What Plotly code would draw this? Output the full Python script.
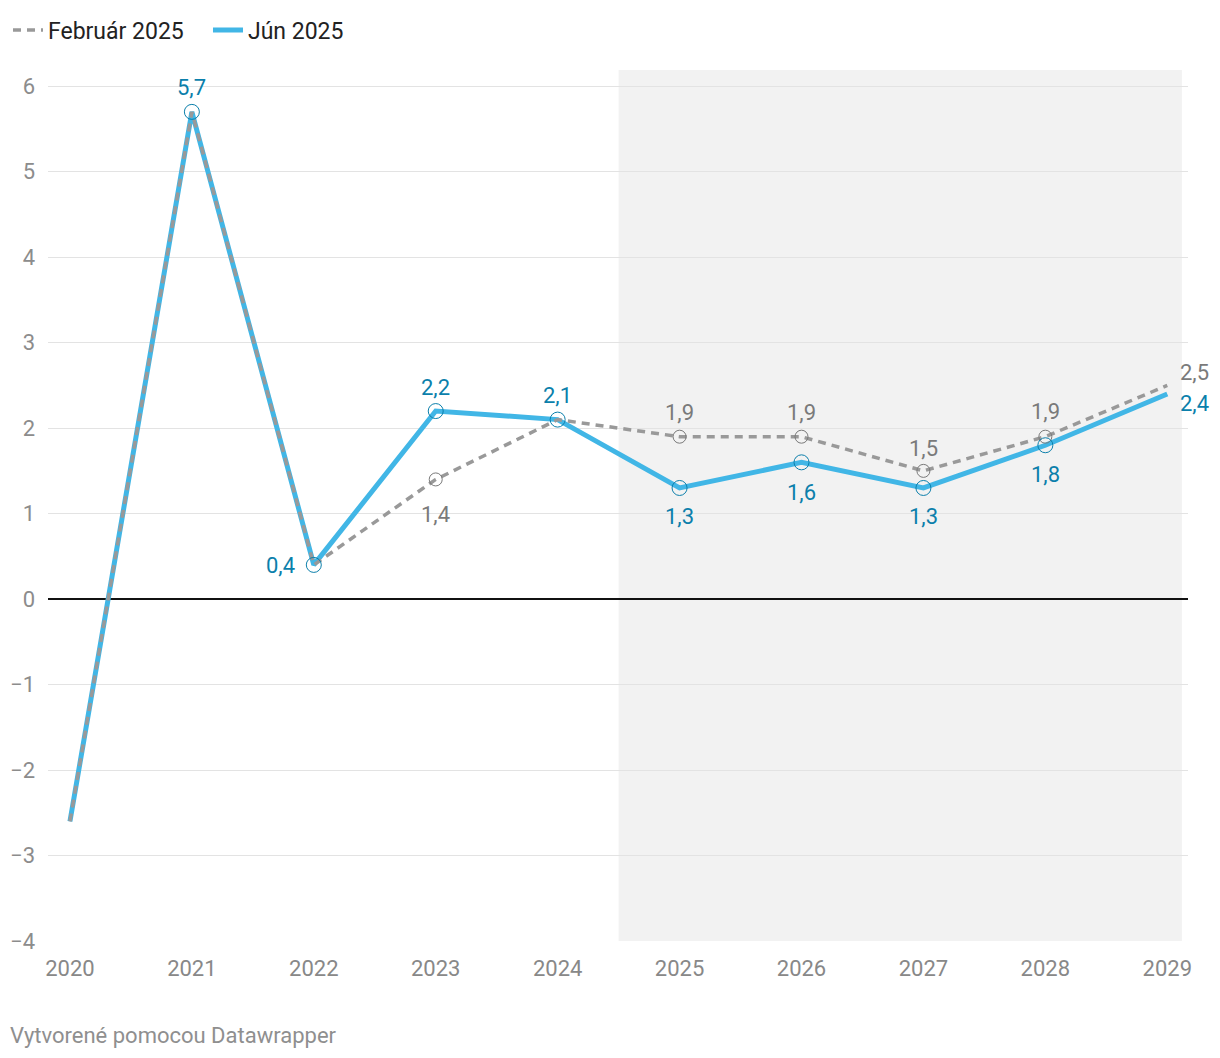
import plotly.graph_objects as go

years = [2020, 2021, 2022, 2023, 2024, 2025, 2026, 2027, 2028, 2029]
feb_2025 = [-2.6, 5.7, 0.4, 1.4, 2.1, 1.9, 1.9, 1.5, 1.9, 2.5]
jun_2025 = [-2.6, 5.7, 0.4, 2.2, 2.1, 1.3, 1.6, 1.3, 1.8, 2.4]
y_ticks = [-4, -3, -2, -1, 0, 1, 2, 3, 4, 5, 6]

# label placement (pixel offsets): year -> (xshift, yshift, xanchor)
feb_labels = {2023: (0, -35, "center"), 2025: (0, 24, "center"), 2026: (0, 24, "center"),
              2027: (0, 22, "center"), 2028: (0, 25, "center"), 2029: (11, 13, "left")}
jun_labels = {2021: (0, 24, "center"), 2022: (-17, -1, "right"), 2023: (0, 24, "center"),
              2024: (0, 24, "center"), 2025: (0, -29, "center"), 2026: (0, -30, "center"),
              2027: (0, -29, "center"), 2028: (0, -29, "center"), 2029: (11, -10, "left")}
feb_markers = [2023, 2025, 2026, 2027, 2028]
jun_markers = [2021, 2022, 2023, 2024, 2025, 2026, 2027, 2028]


def fmt(v):
    return f"{v:.1f}".replace(".", ",")


BLUE = "#41b6e6"
BLUE_TXT = "#0b7fab"
GRAY = "#999999"
GRAY_TXT = "#7a7a7a"
FONT = "Roboto"

fig = go.Figure()

fig.add_shape(type="rect", xref="x", yref="paper", x0=2024.5, x1=2029.12, y0=0, y1=1,
              fillcolor="#f2f2f2", line_width=0, layer="below")

fig.add_trace(go.Scatter(
    x=years, y=jun_2025, mode="lines", name="Jún 2025",
    line=dict(color=BLUE, width=5), legendrank=2, hoverinfo="skip"))
fig.add_trace(go.Scatter(
    x=years, y=feb_2025, mode="lines", name="Február 2025",
    line=dict(color=GRAY, width=3.5, dash="8px,6px"), legendrank=1, hoverinfo="skip"))

fig.add_trace(go.Scatter(
    x=feb_markers, y=[feb_2025[years.index(y)] for y in feb_markers], mode="markers",
    marker=dict(symbol="circle-open", size=13, color=GRAY_TXT, line=dict(width=1)),
    showlegend=False, hoverinfo="skip"))
fig.add_trace(go.Scatter(
    x=jun_markers, y=[jun_2025[years.index(y)] for y in jun_markers], mode="markers",
    marker=dict(symbol="circle-open", size=15, color=BLUE_TXT, line=dict(width=1)),
    showlegend=False, hoverinfo="skip"))

for series, labels, color in ((feb_2025, feb_labels, GRAY_TXT), (jun_2025, jun_labels, BLUE_TXT)):
    for yr, (dx, dy, xa) in labels.items():
        v = series[years.index(yr)]
        fig.add_annotation(x=yr, y=v, text=fmt(v), showarrow=False, xanchor=xa, yanchor="middle",
                           xshift=dx, yshift=dy, font=dict(family=FONT, size=22, color=color))

fig.add_annotation(text="Vytvorené pomocou Datawrapper", xref="paper", yref="paper",
                   x=-0.035, y=-0.108, xanchor="left", yanchor="middle", showarrow=False,
                   font=dict(family=FONT, size=22, color="#8f8f8f"))

fig.update_layout(
    width=1212, height=1050,
    margin=dict(l=40, r=32, t=62, b=117, autoexpand=False),
    plot_bgcolor="white", paper_bgcolor="white",
    font=dict(family=FONT),
    showlegend=True,
    legend=dict(orientation="h", x=-0.0351, y=1.046, xanchor="left", yanchor="middle",
                font=dict(family=FONT, size=23, color="#222222"), traceorder="normal",
                itemwidth=30, entrywidth=155, entrywidthmode="pixels"),
    xaxis=dict(range=[2019.82, 2029.17], tickmode="array", tickvals=years,
               ticktext=[str(y) for y in years], showgrid=False, zeroline=False,
               showline=False, ticks="", automargin=False, ticklabelstandoff=12,
               tickfont=dict(family=FONT, size=22, color="#888888"), fixedrange=True),
    yaxis=dict(range=[-4, 6.19], tickmode="array", tickvals=y_ticks,
               ticktext=[str(v).replace("-", "−") for v in y_ticks],
               showgrid=True, gridcolor="#e3e3e3", gridwidth=1.3,
               zeroline=True, zerolinecolor="#111111", zerolinewidth=1.5,
               ticks="", ticklabelstandoff=12, automargin=False,
               tickfont=dict(family=FONT, size=22, color="#8c8c8c"), fixedrange=True),
)

fig.write_html("out.html")
